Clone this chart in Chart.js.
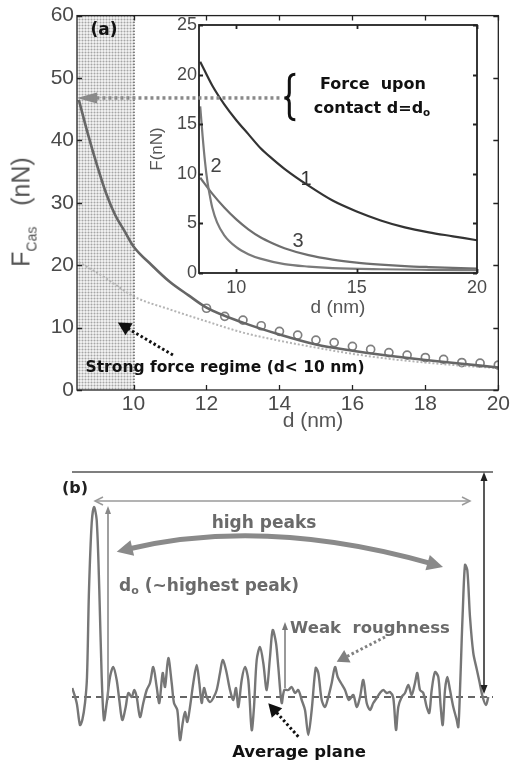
<!DOCTYPE html>
<html><head><meta charset="utf-8">
<script src="https://cdn.jsdelivr.net/npm/chart.js@4/dist/chart.umd.min.js"></script>
<style>
html,body{margin:0;padding:0;background:#fff;}
#wrap{position:relative;width:512px;height:764px;overflow:hidden;background:#fff;}
canvas{position:absolute;}
.t{position:absolute;white-space:nowrap;transform:translate(-50%,-50%);line-height:1;z-index:5;}
.b{font-family:'DejaVu Sans',sans-serif;font-weight:bold;}
.r{font-family:'Liberation Sans',Arial,sans-serif;}
sub{font-size:65%;vertical-align:-3px;line-height:0;}
</style></head>
<body><div id="wrap">
<canvas id="cMain" width="512" height="440" style="left:0;top:0;width:512px;height:440px;z-index:1"></canvas>
<canvas id="cInset" width="512" height="440" style="left:0;top:0;width:512px;height:440px;z-index:2"></canvas>
<canvas id="cProf" width="512" height="324" style="left:0;top:440px;width:512px;height:324px;z-index:1"></canvas>

<div class="t b" style="left:104px;top:29px;font-size:17px;color:#111">(a)</div>
<div class="t b" style="left:373px;top:84px;font-size:16px;color:#111">Force&nbsp; upon</div>
<div class="t b" style="left:372px;top:108px;font-size:16px;color:#111">contact d=d<sub>o</sub></div>
<div class="t b" style="left:225px;top:368px;font-size:15.5px;color:#111">Strong force regime (d&lt; 10 nm)</div>
<div class="t r" style="left:306px;top:178px;font-size:20px;color:#333">1</div>
<div class="t r" style="left:216px;top:165px;font-size:20px;color:#444">2</div>
<div class="t r" style="left:298px;top:240px;font-size:20px;color:#444">3</div>
<div class="t r" style="left:21px;top:212px;font-size:25px;color:#555;transform:translate(-50%,-50%) rotate(-90deg)">F<span style="font-size:14px;position:relative;top:7px">Cas</span>&nbsp;&nbsp;&nbsp;(nN)</div>
<div class="t r" style="left:313px;top:419px;font-size:21px;color:#555">d (nm)</div>

<div class="t b" style="left:75px;top:488px;font-size:16px;color:#222">(b)</div>
<div class="t b" style="left:264px;top:522px;font-size:17px;color:#6a6a6a">high peaks</div>
<div class="t b" style="left:209px;top:585px;font-size:17px;color:#6a6a6a">d<sub>o</sub> (~highest peak)</div>
<div class="t b" style="left:370px;top:628px;font-size:16.5px;color:#6a6a6a">Weak&nbsp; roughness</div>
<div class="t b" style="left:299px;top:752px;font-size:16.5px;color:#111">Average plane</div>
</div>
<script>
// ---------------- Panel (a): main plot data ----------------
const mainTicksX = [10, 12, 14, 16, 18, 20];
const mainTicksY = [0, 10, 20, 30, 40, 50, 60];
const dSolid = [8.5, 8.75, 9, 9.25, 9.5, 9.75, 10, 10.5, 11, 11.5, 12, 13, 14, 15, 16, 17, 18, 19, 20];
const fSolid = [46.5, 41, 36, 31.5, 28, 25.5, 23, 20.0, 17.3, 15.2, 13.2, 10.8, 8.9, 7.3, 6.3, 5.5, 4.8, 4.2, 3.6];
const dDotted = [8.5, 9, 9.5, 10, 11, 12, 13, 14, 15, 16, 17, 18, 19, 20];
const fDotted = [20.5, 18.8, 16.9, 15, 12.9, 11.0, 9.2, 7.9, 6.8, 5.8, 5.0, 4.4, 3.9, 3.5];
const dCircles = [12, 12.5, 13, 13.5, 14, 14.5, 15, 15.5, 16, 16.5, 17, 17.5, 18, 18.5, 19, 19.5, 20];
const fCircles = [13.1, 11.8, 11.2, 10.3, 9.4, 8.8, 8.0, 7.6, 7.0, 6.5, 6.0, 5.6, 5.2, 4.9, 4.4, 4.3, 4.0];
const strongRegime = [8.45, 10];

// ---------------- Panel (a): inset data ----------------
const insetTicksX = [10, 15, 20];
const insetTicksY = [0, 5, 10, 15, 20, 25];
const dCurve1 = [8.5, 9, 9.5, 10, 10.5, 11, 11.5, 12, 13, 14, 15, 16, 17, 18, 19, 20];
const fCurve1 = [21.3, 18.9, 17.0, 15.4, 14.0, 12.6, 11.5, 10.5, 8.8, 7.3, 6.2, 5.3, 4.6, 4.1, 3.7, 3.3];
const dCurve2 = [8.5, 8.6, 8.7, 8.8, 8.9, 9.0, 9.2, 9.5, 10, 10.5, 11, 12, 13, 14, 16, 18, 20];
const fCurve2 = [16.8, 13.8, 11.2, 9.2, 7.8, 6.6, 5.1, 3.8, 2.6, 1.9, 1.45, 0.9, 0.65, 0.5, 0.38, 0.32, 0.28];
const dCurve3 = [8.5, 9, 9.5, 10, 10.5, 11, 11.5, 12, 13, 14, 15, 16, 17, 18, 19, 20];
const fCurve3 = [9.6, 8.0, 6.6, 5.4, 4.4, 3.6, 3.0, 2.5, 1.8, 1.35, 1.05, 0.85, 0.7, 0.6, 0.52, 0.45];

// ---------------- Panel (b): surface profile (arbitrary units) ----------------
const profilePos = [0.3, 4.7, 8, 10.3, 13, 15, 17, 19.7, 22, 24.7, 27.3, 29.7, 32, 34.7, 38, 41.3, 44.7, 47.3, 50.3, 53.7,
  56.3, 59.7, 62.3, 64.7, 68, 71.3, 74.7, 78, 81.3, 84.7, 87.3, 90.7, 93, 96.3, 99.7, 102, 105.3, 108, 110.7, 113,
  115.3, 118, 121.3, 124.7, 127.3, 129.7, 132, 134.7, 138, 141.3, 144.7, 148, 150.7, 154, 158, 161.3, 164, 166.3, 169.7, 173,
  176.3, 179.7, 182, 184.7, 188, 191.3, 194.7, 198, 200.7, 204, 206.3, 209.7, 212.3, 216.3, 219.7, 223, 226.3, 229.7, 233, 236.3,
  239.7, 243.7, 246.3, 249.7, 253, 256.3, 259.7, 263, 265.7, 269, 273, 277, 281.3, 284.7, 288, 291.3, 294.7, 298, 301.3, 304.7,
  308, 311.3, 314.7, 318, 321.3, 324, 326.3, 329.7, 333, 336.3, 339.7, 343, 345.3, 348, 351.3, 354.7, 357.3, 359.7, 363, 366.3,
  368.7, 370.7, 373, 375.3, 378, 381.3, 384.7, 386.3, 388, 389.7, 390.7, 393, 395.3, 398, 401.3, 404.7, 407.3, 410.7, 414, 416.3];
const profileH = [9, -6, -28, -23, -6, 20, 107, 174, 190, 177, 107, 20, -23, -6, 20, 30, 17, -3, -23, -10,
  4, 0, 7, 0, -20, -6, 7, 14, 30, 10, -6, 24, 10, 39, 14, -6, -13, -43, -26, -15,
  -25, -10, 14, 32, 14, -6, 9, 0, -5, -1, 7, 24, 37, 27, 7, -3, 9, -10, 17, 30,
  17, -33, -10, 37, 50, 34, 7, 40, 67, 54, 30, -6, 7, 7, 10, 4, 7, -3, -13, -38,
  -13, 29, 24, -3, -10, 0, 14, 30, 20, 14, 7, -3, 2, -10, 0, 17, -6, -13, -6, -1,
  4, 7, 4, 5, -1, -33, -10, 0, 4, 12, 2, 14, 24, 7, 4, -10, -16, 7, 25, 20,
  -10, -28, 7, 20, 7, -10, -23, -30, 7, 57, 84, 132, 127, 80, 44, 28, 16, 0, -8, 0];
const profileRange = [0, 421];
const heightRange = [-67, 257];

const FONT = "'Liberation Sans', Arial, sans-serif";
const pts = (xs, ys) => xs.map((x, i) => ({x, y: ys[i]}));
const base = {responsive:false, maintainAspectRatio:false, animation:false, devicePixelRatio:1, events:[],
  plugins:{legend:{display:false}, tooltip:{enabled:false}}};

function stipple(ctx){
  const p = document.createElement('canvas'); p.width = 3; p.height = 3;
  const g = p.getContext('2d');
  g.fillStyle = '#eeeeee'; g.fillRect(0,0,3,3);
  g.fillStyle = '#d2d2d2'; g.fillRect(0,1,3,1); g.fillRect(1,0,1,3);
  g.fillStyle = '#a6a6a6'; g.fillRect(1,1,1,1);
  return ctx.createPattern(p, 'repeat');
}
function boxTicks(ctx, a, xs, ys, X, Y, len, color, lw){
  ctx.save(); ctx.strokeStyle = color; ctx.lineWidth = lw; ctx.beginPath();
  xs.forEach(v => { const p = X(v); ctx.moveTo(p, a.bottom); ctx.lineTo(p, a.bottom-len); ctx.moveTo(p, a.top); ctx.lineTo(p, a.top+len); });
  ys.forEach(v => { const p = Y(v); ctx.moveTo(a.left, p); ctx.lineTo(a.left+len, p); ctx.moveTo(a.right, p); ctx.lineTo(a.right-len, p); });
  ctx.stroke();
  ctx.strokeRect(a.left, a.top, a.right-a.left, a.bottom-a.top);
  ctx.restore();
}
function head(ctx, fx, fy, tx, ty, len, hw, color){
  const an = Math.atan2(ty-fy, tx-fx);
  ctx.save(); ctx.translate(tx, ty); ctx.rotate(an);
  ctx.beginPath(); ctx.moveTo(0,0); ctx.lineTo(-len, hw); ctx.lineTo(-len, -hw); ctx.closePath();
  ctx.fillStyle = color; ctx.fill(); ctx.restore();
}
function chevron(ctx, fx, fy, tx, ty, len, hw, color, lw){
  const an = Math.atan2(ty-fy, tx-fx);
  ctx.save(); ctx.translate(tx, ty); ctx.rotate(an);
  ctx.beginPath(); ctx.moveTo(-len, hw); ctx.lineTo(0,0); ctx.lineTo(-len, -hw);
  ctx.strokeStyle = color; ctx.lineWidth = lw; ctx.stroke(); ctx.restore();
}
function arrow(ctx, x0, y0, x1, y1, o){
  const L = Math.hypot(x1-x0, y1-y0), ux = (x1-x0)/L, uy = (y1-y0)/L;
  ctx.save(); ctx.strokeStyle = o.color; ctx.lineWidth = o.lw; ctx.setLineDash(o.dash || []);
  ctx.beginPath(); ctx.moveTo(x0, y0); ctx.lineTo(x1-ux*o.len*0.8, y1-uy*o.len*0.8); ctx.stroke(); ctx.restore();
  head(ctx, x0, y0, x1, y1, o.len, o.hw, o.color);
}

// ---------------- main chart ----------------
const mainDeco = {
  id:'mainDeco',
  beforeDraw(c){ const g = c.ctx; g.save(); g.fillStyle = '#fff'; g.fillRect(0,0,c.width,c.height); g.restore(); },
  beforeDatasetsDraw(c){
    const {ctx, chartArea:a, scales:{x}} = c;
    const x1 = x.getPixelForValue(strongRegime[0]), x2 = x.getPixelForValue(strongRegime[1]);
    ctx.save(); ctx.fillStyle = stipple(ctx); ctx.fillRect(x1, a.top, x2-x1, a.bottom-a.top);
    ctx.strokeStyle = '#222'; ctx.lineWidth = 1; ctx.setLineDash([1.5,1.5]);
    ctx.beginPath(); ctx.moveTo(x2+0.5, a.top); ctx.lineTo(x2+0.5, a.bottom); ctx.stroke();
    ctx.restore();
  },
  afterDraw(c){
    const {ctx, chartArea:a, scales:{x, y}} = c;
    boxTicks(ctx, a, mainTicksX, mainTicksY, v=>Math.round(x.getPixelForValue(v))+0.5, v=>Math.round(y.getPixelForValue(v))+0.5, 5, '#222', 1.3);
  }
};
const axisCommon = (size, pad) => ({grid:{display:false, drawTicks:false}, border:{display:false},
  ticks:{color:'#4a4a4a', font:{family:FONT, size}, padding:pad, maxRotation:0, autoSkip:false}});

window.mainChart = new Chart(document.getElementById('cMain'), {
  type:'line',
  data:{datasets:[
    {data:pts(dSolid, fSolid), borderColor:'#666666', borderWidth:2.6, pointRadius:0, cubicInterpolationMode:'monotone'},
    {data:pts(dDotted, fDotted), borderColor:'#b4b4b4', borderWidth:2, borderDash:[2,2], pointRadius:0, cubicInterpolationMode:'monotone'},
    {data:pts(dCircles, fCircles), showLine:false, pointRadius:4, pointBorderWidth:1.7, pointBorderColor:'#808080', pointBackgroundColor:'rgba(255,255,255,0)'}
  ]},
  options:Object.assign({}, base, {
    layout:{padding:{left:0, right:13, top:13, bottom:0}},
    scales:{
      x:Object.assign(axisCommon(21, 2), {type:'linear', min:8.45, max:20,
        afterBuildTicks: ax => { ax.ticks = mainTicksX.map(v => ({value:v})); },
        afterFit: ax => { ax.height = 50; }}),
      y:Object.assign(axisCommon(21, 3), {type:'linear', min:0, max:60,
        afterBuildTicks: ax => { ax.ticks = mainTicksY.map(v => ({value:v})); },
        afterFit: ax => { ax.width = 77; }})
    }
  }),
  plugins:[mainDeco]
});

// ---------------- inset chart (also carries the panel-a annotations) ----------------
const insetDeco = {
  id:'insetDeco',
  beforeDatasetsDraw(c){
    const {ctx, chartArea:a} = c;
    ctx.save(); ctx.fillStyle = '#fff'; ctx.fillRect(a.left, a.top, a.right-a.left, a.bottom-a.top); ctx.restore();
  },
  afterDraw(c){
    const {ctx, chartArea:a, scales:{x, y}} = c;
    boxTicks(ctx, a, insetTicksX, insetTicksY, v=>Math.round(x.getPixelForValue(v))+0.5, v=>Math.round(y.getPixelForValue(v))+0.5, 4, '#222', 1.8);
    const m = window.mainChart, MX = v => m.scales.x.getPixelForValue(v), MY = v => m.scales.y.getPixelForValue(v);
    arrow(ctx, MX(14.0), MY(46.8), MX(8.45), MY(46.8), {color:'#8a8a8a', lw:3.5, dash:[3,3], len:20, hw:5.5});
    const bx = MX(14.27), t = MY(50.6), bt = MY(43.3), md = MY(46.8), w = 6;
    ctx.save(); ctx.strokeStyle = '#111'; ctx.lineWidth = 3; ctx.beginPath();
    ctx.moveTo(bx+w, t); ctx.quadraticCurveTo(bx, t, bx, t+6); ctx.lineTo(bx, md-5);
    ctx.quadraticCurveTo(bx, md, bx-w+1, md); ctx.quadraticCurveTo(bx, md, bx, md+5);
    ctx.lineTo(bx, bt-6); ctx.quadraticCurveTo(bx, bt, bx+w, bt); ctx.stroke(); ctx.restore();
    arrow(ctx, MX(11.08), MY(5.6), MX(9.57), MY(10.8), {color:'#111', lw:3, dash:[2.5,2.5], len:13, hw:7});
  }
};
new Chart(document.getElementById('cInset'), {
  type:'line',
  data:{datasets:[
    {data:pts(dCurve1, fCurve1), borderColor:'#333', borderWidth:2.2, pointRadius:0, cubicInterpolationMode:'monotone'},
    {data:pts(dCurve2, fCurve2), borderColor:'#7a7a7a', borderWidth:2.2, pointRadius:0, cubicInterpolationMode:'monotone'},
    {data:pts(dCurve3, fCurve3), borderColor:'#6e6e6e', borderWidth:2.2, pointRadius:0, cubicInterpolationMode:'monotone'}
  ]},
  options:Object.assign({}, base, {
    layout:{padding:{left:139, right:35, top:25, bottom:117}},
    scales:{
      x:Object.assign(axisCommon(18, 4), {type:'linear', min:8.45, max:20,
        title:{display:true, text:'d (nm)', color:'#555', font:{family:FONT, size:19}, padding:{top:0, bottom:4}},
        afterBuildTicks: ax => { ax.ticks = insetTicksX.map(v => ({value:v})); },
        afterFit: ax => { ax.height = 50; }}),
      y:Object.assign(axisCommon(18, 2), {type:'linear', min:0, max:25,
        title:{display:true, text:'F(nN)', color:'#555', font:{family:FONT, size:17}, padding:{top:8, bottom:0}},
        afterBuildTicks: ax => { ax.ticks = insetTicksY.map(v => ({value:v})); },
        afterFit: ax => { ax.width = 60; }})
    }
  }),
  plugins:[insetDeco]
});

// ---------------- panel (b) ----------------
const profDeco = {
  id:'profDeco',
  beforeDraw(c){ const g = c.ctx; g.save(); g.fillStyle = '#fff'; g.fillRect(0,0,c.width,c.height); g.restore(); },
  beforeDatasetsDraw(c){
    const {ctx, scales:{x, y}} = c;
    ctx.save(); ctx.strokeStyle = '#333'; ctx.lineWidth = 1.5; ctx.setLineDash([7,5]);
    ctx.beginPath(); ctx.moveTo(x.getPixelForValue(0), y.getPixelForValue(0)); ctx.lineTo(x.getPixelForValue(421), y.getPixelForValue(0)); ctx.stroke(); ctx.restore();
  },
  afterDatasetsDraw(c){
    const {ctx, scales:{x, y}} = c; const X = v => x.getPixelForValue(v), Y = v => y.getPixelForValue(v);
    ctx.save();
    ctx.strokeStyle = '#555'; ctx.lineWidth = 1.5; ctx.beginPath(); ctx.moveTo(X(0), Y(225)); ctx.lineTo(X(421), Y(225)); ctx.stroke();
    ctx.strokeStyle = '#9a9a9a'; ctx.lineWidth = 1.5; ctx.beginPath(); ctx.moveTo(X(23), Y(196)); ctx.lineTo(X(398), Y(196)); ctx.stroke();
    chevron(ctx, X(40), Y(196), X(23), Y(196), 8, 4, '#9a9a9a', 1.5);
    chevron(ctx, X(380), Y(196), X(398), Y(196), 8, 4, '#9a9a9a', 1.5);
    arrow(ctx, X(36), Y(-3), X(36), Y(191), {color:'#888', lw:1.6, len:8, hw:3});
    arrow(ctx, X(213), Y(9), X(213), Y(75), {color:'#777', lw:1.5, len:8, hw:3});
    arrow(ctx, X(412), Y(110), X(412), Y(225), {color:'#222', lw:1.5, len:9, hw:3.5});
    arrow(ctx, X(412), Y(110), X(412), Y(3), {color:'#222', lw:1.5, len:9, hw:3.5});
    const p0 = [X(44.7), Y(145.3)], p1 = [X(201), Y(159)], p2 = [X(371), Y(130)];
    const cp = [2*p1[0] - (p0[0]+p2[0])/2, 2*p1[1] - (p0[1]+p2[1])/2];
    const sh = (p, q, d) => { const L = Math.hypot(q[0]-p[0], q[1]-p[1]); return [p[0] + (q[0]-p[0])/L*d, p[1] + (q[1]-p[1])/L*d]; };
    const s0 = sh(p0, cp, 12), s2 = sh(p2, cp, 12);
    ctx.strokeStyle = '#8a8a8a'; ctx.lineWidth = 5; ctx.beginPath();
    ctx.moveTo(s0[0], s0[1]); ctx.quadraticCurveTo(cp[0], cp[1], s2[0], s2[1]); ctx.stroke();
    head(ctx, cp[0], cp[1], p0[0], p0[1], 16, 8, '#8a8a8a');
    head(ctx, cp[0], cp[1], p2[0], p2[1], 16, 8, '#8a8a8a');
    ctx.restore();
    arrow(ctx, X(313), Y(60), X(264.7), Y(35.3), {color:'#808080', lw:3, dash:[2.5,2.5], len:12, hw:7});
    arrow(ctx, X(226.3), Y(-39.7), X(196.3), Y(-6.3), {color:'#111', lw:3, dash:[2.5,2.5], len:13, hw:7});
  }
};
new Chart(document.getElementById('cProf'), {
  type:'line',
  data:{datasets:[{data:pts(profilePos, profileH), borderColor:'#767676', borderWidth:2.4, pointRadius:0, tension:0.3}]},
  options:Object.assign({}, base, {
    layout:{padding:{left:72, right:19, top:0, bottom:0}},
    scales:{
      x:{type:'linear', display:false, min:profileRange[0], max:profileRange[1]},
      y:{type:'linear', display:false, min:heightRange[0], max:heightRange[1]}
    }
  }),
  plugins:[profDeco]
});
</script>
</body></html>
